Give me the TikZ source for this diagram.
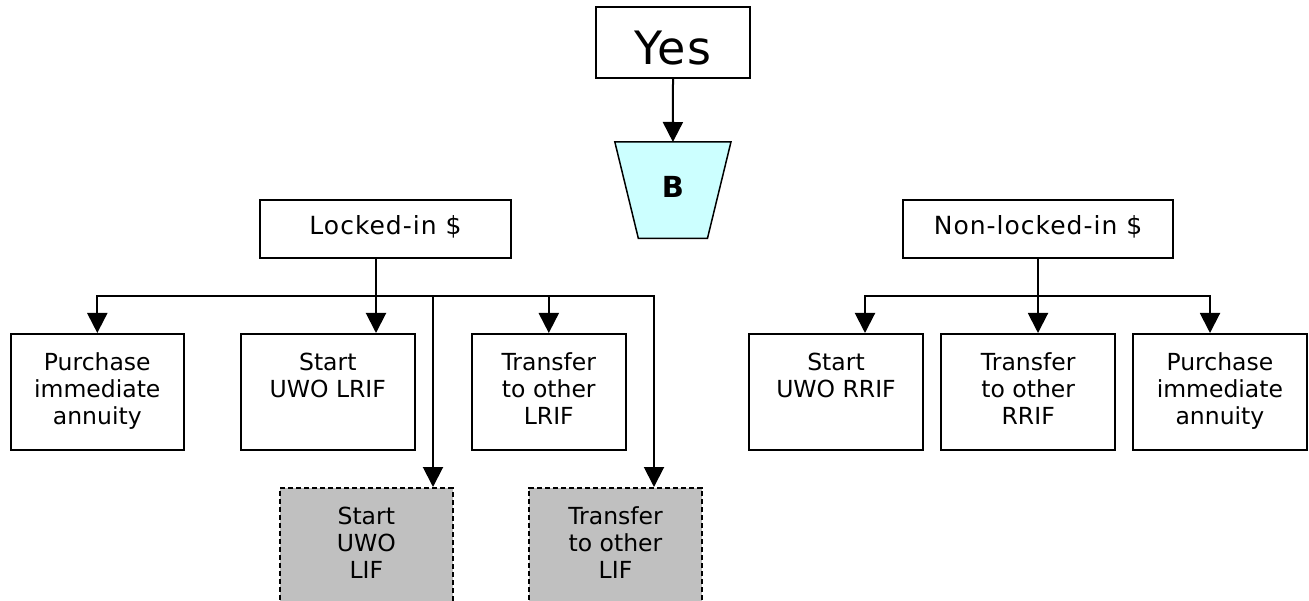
\documentclass[tikz,border=0pt]{standalone}
\usepackage{fontspec}
\setmainfont{DejaVu Sans}
\usetikzlibrary{arrows.meta,backgrounds,calc}
\definecolor{bfill}{HTML}{CCFFFF}
\definecolor{gfill}{HTML}{C0C0C0}
\begin{document}
\begin{tikzpicture}[x=1pt,y=-1pt,
  every node/.style={font=\fontsize{23.5}{27.3}\selectfont},
  box/.style={draw, line width=2pt, inner sep=0pt, align=center, minimum height=116pt, fill=white},
  hdr/.style={draw, line width=2pt, inner sep=0pt, minimum height=58.3pt, fill=white,
              font=\fontsize{25}{29}\selectfont\addfontfeature{LetterSpace=4}},
  lif/.style={box, fill=gfill, dash pattern=on 5pt off 3pt},
  conn/.style={line width=2pt, line cap=rect},
  arr/.style={line width=2pt, -{Triangle[length=20pt,width=20pt]}}
]
\clip (0,0) rectangle (1309,601);

% top
\node[draw, line width=2pt, minimum width=154pt, minimum height=71pt, inner sep=0pt,
      text height=44.6pt, text depth=0pt,
      font=\fontsize{46}{54}\selectfont\addfontfeature{LetterSpace=3}] (yes) at (673,42.7) {Yes};
\node[minimum width=115.7pt, minimum height=96pt, inner sep=0pt, text height=21pt, text depth=5.6pt,
      font=\fontsize{29}{34}\selectfont\bfseries] (b) at (672.9,190.2) {B};
\begin{scope}[on background layer]
\draw[line width=1.5pt, fill=bfill] (b.north west) -- (b.north east)
   -- ([xshift=-23.5pt]b.south east) -- ([xshift=23.5pt]b.south west) -- cycle;
\end{scope}
\draw[arr] (yes.south) -- (b.north);

% headers
\node[hdr, minimum width=251pt] (locked) at (385.5,229.2) {\strut Locked-in \$};
\node[hdr, minimum width=270.6pt] (nonlocked) at (1038,229.2) {\strut Non-locked-in \$};

% left boxes
\node[box, minimum width=173.3pt] (p1) at (97.3,392) {\strut Purchase\\\strut immediate\\\strut annuity};
\node[box, minimum width=174.3pt] (s1) at (327.8,392) {\strut Start\\\strut UWO LRIF\\\strut};
\node[box, minimum width=154.3pt] (t1) at (548.8,392) {\strut Transfer\\\strut to other\\\strut LRIF};
\node[lif, minimum width=172.7pt] (lifa) at (366.3,546) {\strut Start\\\strut UWO\\\strut LIF};
\node[lif, minimum width=172.4pt] (lifb) at (615.5,546) {\strut Transfer\\\strut to other\\\strut LIF};

% right boxes
\node[box, minimum width=174pt] (r1) at (836,392) {\strut Start\\\strut UWO RRIF\\\strut};
\node[box, minimum width=173.6pt] (r2) at (1028.2,392) {\strut Transfer\\\strut to other\\\strut RRIF};
\node[box, minimum width=173.4pt] (r3) at (1219.9,392) {\strut Purchase\\\strut immediate\\\strut annuity};

% left connectors
\coordinate (lb) at (376,296);
\coordinate (la) at (433,296);
\coordinate (lbr) at (654,296);
\draw[conn] (locked.south -| lb) -- (lb);
\draw[conn] (p1.north |- lb) -- (lbr);
\draw[arr] (p1.north |- lb) -- (p1.north);
\draw[arr] (lb) -- (lb |- s1.north);
\draw[arr] (t1.north |- lb) -- (t1.north);
\draw[arr] (la) -- (la |- lifa.north);
\draw[arr] (lbr) -- (lbr |- lifb.north);

% right connectors
\coordinate (rb) at (1038,296.5);
\coordinate (rbl) at (865,296.5);
\coordinate (rbr) at (1210,296.5);
\draw[conn] (nonlocked.south) -- (rb);
\draw[conn] (rbl) -- (rbr);
\draw[arr] (rbl) -- (rbl |- r1.north);
\draw[arr] (rb) -- (rb |- r2.north);
\draw[arr] (rbr) -- (rbr |- r3.north);
\end{tikzpicture}
\end{document}
